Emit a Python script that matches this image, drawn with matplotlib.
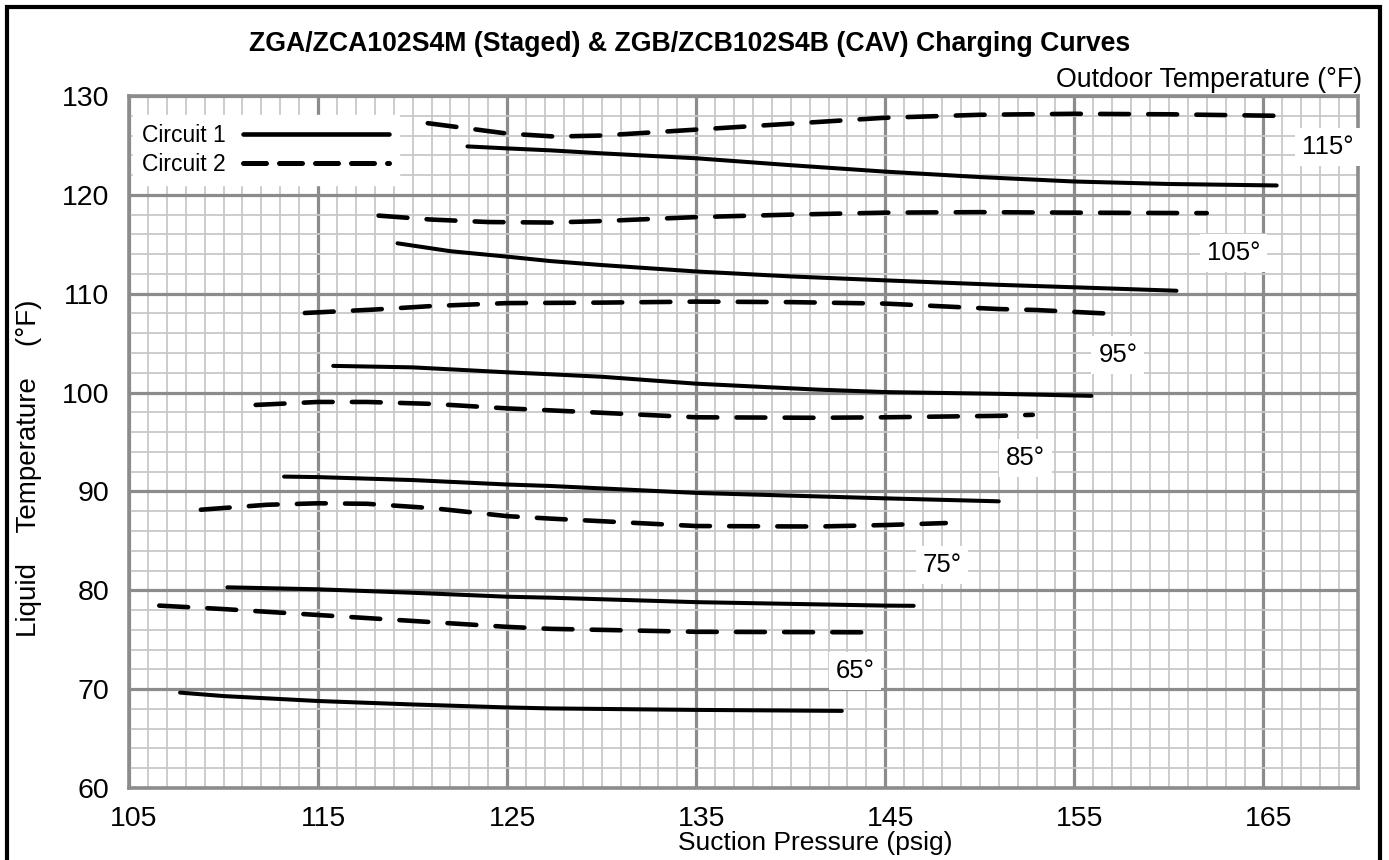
import matplotlib
matplotlib.use("Agg")
import matplotlib.pyplot as plt
import matplotlib.transforms as mtransforms
from matplotlib.lines import Line2D
from matplotlib.ticker import MultipleLocator

plt.rcParams["font.family"] = ["Liberation Sans", "DejaVu Sans"]

# Suction pressure (psig) / liquid temperature (F)
c1_115_x = [122.9, 125, 127.3, 130, 135, 140, 145, 150, 155, 160, 165.7]
c1_115_y = [124.9, 124.7, 124.5, 124.2, 123.7, 123.0, 122.35, 121.8, 121.35, 121.1, 120.95]
c2_115_x = [120.8, 123, 125, 127.5, 130, 135, 140, 145, 150, 155, 160, 165.6]
c2_115_y = [127.25, 126.7, 126.2, 125.9, 126.0, 126.6, 127.2, 127.8, 128.1, 128.2, 128.15, 128.0]

c1_105_x = [119.2, 122, 125, 127.3, 130, 135, 140, 145, 151, 155, 160.4]
c1_105_y = [115.1, 114.3, 113.75, 113.3, 112.9, 112.25, 111.75, 111.35, 110.9, 110.65, 110.3]
c2_105_x = [118.2, 121, 124, 127.3, 130, 135, 140, 145, 150, 155, 162.0]
c2_105_y = [117.9, 117.5, 117.25, 117.2, 117.35, 117.75, 118.0, 118.2, 118.25, 118.2, 118.15]

c1_95_x = [115.8, 120, 125, 127.3, 130, 135, 141.4, 145, 151.1, 155.9]
c1_95_y = [102.7, 102.55, 102.05, 101.85, 101.6, 100.9, 100.3, 100.05, 99.87, 99.67]
c2_95_x = [114.3, 118, 121, 125, 130, 135, 140, 145, 151, 153, 157.2]
c2_95_y = [108.05, 108.4, 108.75, 109.05, 109.1, 109.2, 109.15, 109.0, 108.45, 108.35, 107.95]

c1_85_x = [113.2, 115, 120, 125, 127.3, 135, 145, 151.0]
c1_85_y = [91.5, 91.45, 91.15, 90.7, 90.55, 89.85, 89.3, 89.0]
c2_85_x = [111.7, 115, 117.6, 121.1, 125, 127.3, 135, 141.4, 145, 151.1, 152.8]
c2_85_y = [98.75, 99.05, 99.05, 98.85, 98.4, 98.2, 97.5, 97.45, 97.5, 97.65, 97.75]

c1_75_x = [110.2, 115, 120, 125, 127.3, 135, 145, 146.5]
c1_75_y = [80.3, 80.1, 79.75, 79.35, 79.25, 78.8, 78.45, 78.43]
c2_75_x = [108.8, 112.3, 115, 117.6, 121.1, 125, 127.3, 135, 141.4, 145, 148.2]
c2_75_y = [88.15, 88.65, 88.8, 88.75, 88.3, 87.5, 87.25, 86.5, 86.45, 86.6, 86.8]

c1_65_x = [107.7, 110, 115, 120, 125, 127.3, 135, 142.7]
c1_65_y = [69.65, 69.3, 68.8, 68.45, 68.15, 68.05, 67.9, 67.8]
c2_65_x = [106.6, 110, 115, 120, 125, 127.3, 135, 143.8]
c2_65_y = [78.45, 78.1, 77.5, 76.9, 76.3, 76.1, 75.8, 75.75]

temps = ["65°", "75°", "85°", "95°", "105°", "115°"]
circuit1 = [(c1_65_x, c1_65_y), (c1_75_x, c1_75_y), (c1_85_x, c1_85_y),
            (c1_95_x, c1_95_y), (c1_105_x, c1_105_y), (c1_115_x, c1_115_y)]
circuit2 = [(c2_65_x, c2_65_y), (c2_75_x, c2_75_y), (c2_85_x, c2_85_y),
            (c2_95_x, c2_95_y), (c2_105_x, c2_105_y), (c2_115_x, c2_115_y)]

W, H = 1389, 860
fig = plt.figure(figsize=(W / 100, H / 100), dpi=100)
ax = fig.add_axes([129 / W, 1 - 788 / H, (1358 - 129) / W, (788 - 96) / H])

ax.set_xlim(105, 170)
ax.set_ylim(60, 130)
ax.xaxis.set_major_locator(MultipleLocator(10, offset=5))
ax.xaxis.set_minor_locator(MultipleLocator(1))
ax.yaxis.set_major_locator(MultipleLocator(10))
ax.yaxis.set_minor_locator(MultipleLocator(2))
ax.grid(which="minor", color="#c8c8c8", lw=1.3, zorder=0)
ax.grid(which="major", color="#8c8c8c", lw=2.3, zorder=0.5)
ax.set_axisbelow(True)
for sp in ax.spines.values():
    sp.set_color("#8c8c8c")
    sp.set_linewidth(2.6)
ax.tick_params(which="both", length=0)
ax.tick_params(axis="x", labelsize=20.5, pad=13)
ax.tick_params(axis="y", labelsize=20.5, pad=14)
offset = mtransforms.ScaledTranslation(5 / 100, 0, fig.dpi_scale_trans)
for lbl in ax.get_xticklabels():
    lbl.set_transform(lbl.get_transform() + offset)

for xs, ys in circuit1:
    ax.plot(xs, ys, color="black", lw=2.9, solid_capstyle="round", zorder=3)
for xs, ys in circuit2:
    ax.plot(xs, ys, color="black", lw=3.3, dashes=(6.3, 4.2), dash_capstyle="round", zorder=3)

# outdoor temperature tags
tag_pos = [(143.4, 71.8), (148.0, 82.6), (152.4, 93.4), (157.3, 103.8), (163.4, 114.1), (168.4, 124.8)]
for t, (tx, ty) in zip(temps, tag_pos):
    ax.text(tx, ty, t, fontsize=18.5, ha="center", va="center", zorder=4,
            bbox=dict(facecolor="white", edgecolor="none", pad=5))

handles = [Line2D([], [], color="black", lw=3.3, solid_capstyle="round"),
           Line2D([], [], color="black", lw=3.6, dashes=(4.6, 2.6), dash_capstyle="round")]
leg = ax.legend(handles, ["Circuit 1", "Circuit 2"], loc="upper left",
                bbox_to_anchor=(0.003, 0.973), borderaxespad=0,
                markerfirst=False, handlelength=6.4, handletextpad=0.75,
                fontsize=16.5, labelspacing=0.28, borderpad=0.4,
                frameon=True, fancybox=False, framealpha=1, edgecolor="white")
leg.get_frame().set_boxstyle("square", pad=0)
leg.set_zorder(5)

fig.text(690 / W, 1 - 44 / H,
         "ZGA/ZCA102S4M (Staged) & ZGB/ZCB102S4B (CAV) Charging Curves",
         fontsize=19.2, fontweight="bold", ha="center", va="center")
fig.text(1362 / W, 1 - 87 / H, "Outdoor Temperature (°F)", fontsize=19.3,
         ha="right", va="baseline")
fig.text(815 / W, 1 - 850 / H, "Suction Pressure (psig)", fontsize=19,
         ha="center", va="baseline")
fig.text(29 / W, 1 - 468 / H, "Liquid    Temperature    (°F)", fontsize=20,
         rotation=90, ha="center", va="center")

border = plt.Rectangle((6.5 / W, -0.02), (1380 - 6.5) / W, 1.02 - 6.5 / H,
                       transform=fig.transFigure, fill=False, lw=3, ec="black")
fig.add_artist(border)

fig.savefig("out.png", dpi=100)
